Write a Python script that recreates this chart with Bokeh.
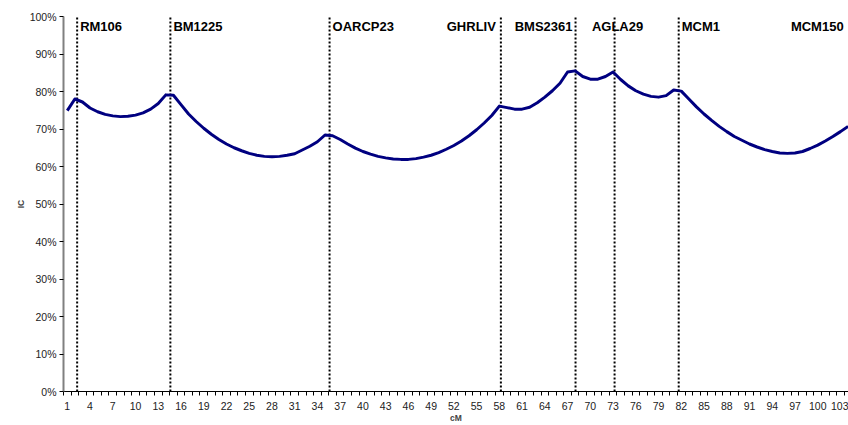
from bokeh.plotting import figure
from bokeh.models import FixedTicker, NumeralTickFormatter, Label, Range1d, ColumnDataSource
from bokeh.embed import file_html
from bokeh.resources import INLINE

# ---- data ----
cm = list(range(1, 105))
ic = [74.9, 78.0, 77.2, 75.6, 74.6, 73.9, 73.5, 73.3, 73.4, 73.7,
      74.3, 75.3, 76.8, 79.1, 79.0, 76.5, 74.0, 72.0, 70.2, 68.6,
      67.2, 66.0, 65.0, 64.2, 63.5, 63.0, 62.7, 62.6, 62.7, 63.0,
      63.4, 64.4, 65.4, 66.6, 68.4, 68.2, 67.2, 66.0, 64.9, 64.0,
      63.3, 62.7, 62.3, 62.0, 61.9, 61.9, 62.1, 62.5, 63.0, 63.7,
      64.6, 65.6, 66.8, 68.2, 69.8, 71.6, 73.6, 76.1, 75.7, 75.3,
      75.3, 75.8, 77.0, 78.5, 80.2, 82.2, 85.2, 85.5, 84.0, 83.3,
      83.3, 84.0, 85.2, 83.2, 81.5, 80.2, 79.3, 78.7, 78.5, 78.9,
      80.4, 80.1, 78.0, 75.9, 74.0, 72.3, 70.7, 69.3, 68.0, 67.0,
      66.0, 65.2, 64.5, 64.0, 63.6, 63.5, 63.6, 64.0, 64.8, 65.7,
      66.8, 68.0, 69.3, 70.7]
marker_names = ["RM106", "BM1225", "OARCP23", "GHRLIV", "BMS2361", "AGLA29", "MCM1", "MCM150"]
marker_cm = [2.3, 14.6, 35.6, 58.2, 68.05, 73.2, 81.66, 105.0]
x_tick_labels = list(range(1, 105, 3))
y_ticks = [i / 10 for i in range(11)]

FONT = "Liberation Sans"

p = figure(width=848, height=425, output_backend="svg", toolbar_location=None,
           x_range=Range1d(0.5, 104.06), y_range=Range1d(0, 1),
           min_border_left=63, min_border_right=0, min_border_top=16, min_border_bottom=34)
p.outline_line_color = None
p.grid.visible = False
p.background_fill_color = "white"

# vertical marker lines
p.segment(x0=marker_cm, x1=marker_cm, y0=[0] * len(marker_cm), y1=[1] * len(marker_cm),
          line_color="black", line_width=2, line_dash="2 2")

# IC curve
src = ColumnDataSource(dict(x=cm, y=[v / 100 for v in ic]))
p.line("x", "y", source=src, line_color="#000080", line_width=3, line_join="round")

# marker labels
placement = {"GHRLIV": ("right", -5), "BMS2361": ("right", -3), "AGLA29": ("center", 3),
             "MCM150": ("right", -12)}
for name, pos in zip(marker_names, marker_cm):
    align, off = placement.get(name, ("left", 3))
    p.add_layout(Label(x=pos, y=0.974, text=name, text_align=align, x_offset=off,
                       text_baseline="middle", text_font=FONT, text_font_size="13px",
                       text_font_style="bold", text_color="black"))

# x axis
xa = p.xaxis[0]
xa.ticker = FixedTicker(ticks=x_tick_labels, minor_ticks=[i + 0.5 for i in range(0, 105)])
xa.major_tick_out = 0
xa.major_tick_in = 0
xa.minor_tick_out = 4
xa.minor_tick_in = 0
xa.minor_tick_line_color = "black"
xa.axis_line_color = "black"
xa.axis_line_width = 1
xa.major_label_text_font = FONT
xa.major_label_text_font_size = "10.5px"
xa.major_label_text_color = "#222222"
xa.major_label_standoff = 6
xa.axis_label = "cM"
xa.axis_label_text_font = FONT
xa.axis_label_text_font_size = "8.5px"
xa.axis_label_text_font_style = "bold"
xa.axis_label_standoff = 0

# y axis
ya = p.yaxis[0]
ya.ticker = FixedTicker(ticks=y_ticks)
ya.formatter = NumeralTickFormatter(format="0%")
ya.axis_line_color = "#808080"
ya.axis_line_width = 2
ya.major_tick_out = 4
ya.major_tick_in = 0
ya.major_tick_line_color = "black"
ya.minor_tick_out = 0
ya.minor_tick_in = 0
ya.major_label_text_font = FONT
ya.major_label_text_font_size = "10.5px"
ya.major_label_text_color = "#222222"
ya.major_label_standoff = 3
ya.axis_label = "IC"
ya.axis_label_text_font = FONT
ya.axis_label_text_font_size = "8.5px"
ya.axis_label_text_font_style = "bold"
ya.axis_label_standoff = 1

open("out.html", "w").write(file_html(p, INLINE))
